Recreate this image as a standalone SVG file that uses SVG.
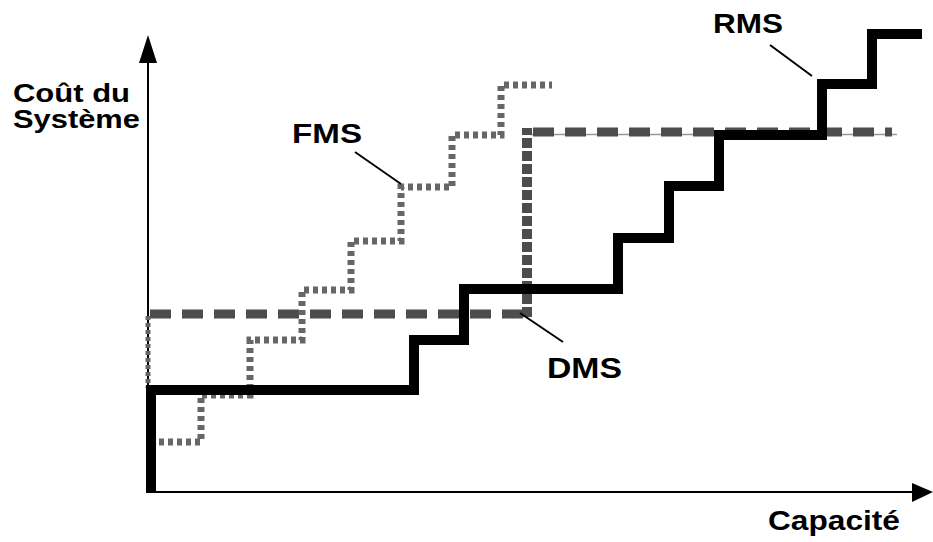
<svg xmlns="http://www.w3.org/2000/svg" width="933" height="542" viewBox="0 0 933 542">
<defs>
<style>
.lbl{font-family:"Liberation Sans",Arial,sans-serif;font-weight:bold;fill:#000}
.rms{fill:none;stroke:#000;stroke-width:10;stroke-linejoin:miter;stroke-linecap:butt}
.dms{fill:none;stroke:#4d4d4d;stroke-width:9;stroke-dasharray:21 11}
.dmsv{fill:none;stroke:#4d4d4d;stroke-width:10;stroke-dasharray:10 3}
.fms{fill:none;stroke:#666;stroke-width:7;stroke-dasharray:5 4}
.leader{stroke:#000;stroke-width:2;fill:none}
.axis{stroke:#000;stroke-width:2;fill:none}
</style>
</defs>
<rect width="933" height="542" fill="#fff"/>
<g id="axes">
<line class="axis" x1="148" y1="493" x2="148" y2="58"/>
<polygon points="148,35 139,63 157,63" fill="#000"/>
<line class="axis" x1="147" y1="492" x2="912" y2="492"/>
<polygon points="933,492 912,483 912,502" fill="#000"/>
</g>
<g id="curves">
<g id="dms-curve">
<line x1="530" y1="134.5" x2="897" y2="134.5" stroke="#999" stroke-width="1.5"/>
<line class="dms" x1="150" y1="314" x2="527" y2="314"/>
<line class="dmsv" x1="527" y1="317" x2="527" y2="128"/>
<line class="dms" x1="533" y1="132" x2="892" y2="132"/>
<line x1="148" y1="316" x2="148" y2="388" stroke="#666" stroke-width="5" stroke-dasharray="4 3"/>
</g>
<g id="fms-curve">
<polyline class="fms" points="150,442 201,442 201,395 250,395 250,340 302,340 302,290 351,290 351,241 401,241 401,187 452,187 452,135 501,135 501,85 552,85"/>
</g>
<g id="rms-curve">
<polyline class="rms" points="151,493 151,390 414,390 414,340 464,340 464,289 618,289 618,238 669,238 669,186 719,186 719,135 822,135 822,84 872,84 872,34 922,34"/>
</g>
</g>
<g id="leaders">
<line class="leader" x1="355" y1="152" x2="401" y2="184"/>
<line class="leader" x1="520" y1="313" x2="563" y2="342"/>
<line class="leader" x1="770" y1="45" x2="812" y2="76"/>
</g>
<g id="labels">
<text class="lbl" x="13" y="102" font-size="25" textLength="117" lengthAdjust="spacingAndGlyphs">Coût du</text>
<text class="lbl" x="13" y="128" font-size="25" textLength="127" lengthAdjust="spacingAndGlyphs">Système</text>
<text class="lbl" x="292" y="143" font-size="28" textLength="70" lengthAdjust="spacingAndGlyphs">FMS</text>
<text class="lbl" x="713" y="33" font-size="28" textLength="70" lengthAdjust="spacingAndGlyphs">RMS</text>
<text class="lbl" x="547" y="378" font-size="30" textLength="75" lengthAdjust="spacingAndGlyphs">DMS</text>
<text class="lbl" x="768" y="530" font-size="27" textLength="132" lengthAdjust="spacingAndGlyphs">Capacité</text>
</g>
</svg>
